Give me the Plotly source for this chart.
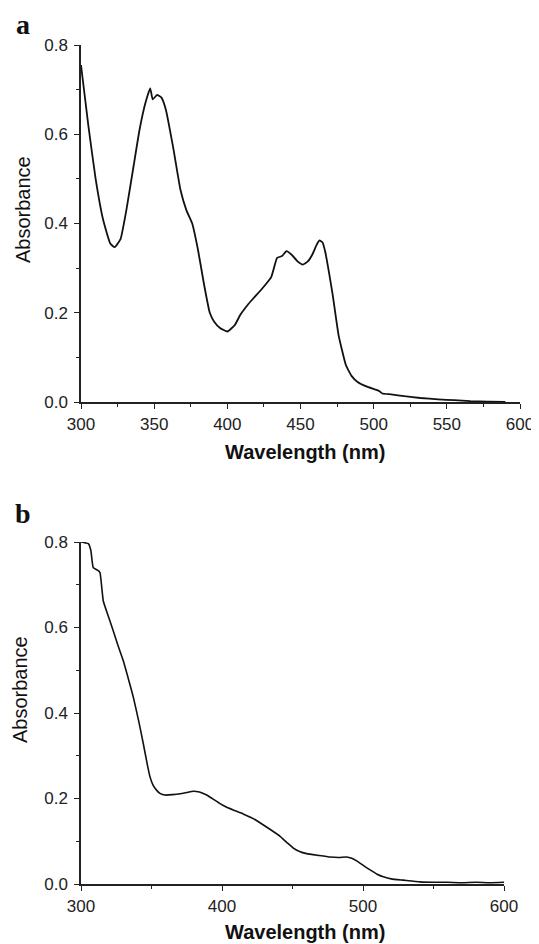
import plotly.graph_objects as go

# panel a: absorbance spectrum
wavelength_a = [300, 305, 310, 315, 320, 323, 327, 331, 336, 340, 344, 347.3, 349, 352, 355,
                358, 363, 368, 372, 376, 380, 384, 388, 391, 395, 400, 405, 409, 414, 418,
                424, 430, 434, 437.4, 440.4, 444, 448, 451.6, 455, 458, 461, 463, 465, 467,
                469.5, 472, 476, 481, 485, 489, 495, 502, 504, 506, 512, 521, 532, 544,
                555, 566, 578, 590]
absorbance_a = [0.755, 0.62, 0.5, 0.41, 0.355, 0.347, 0.365, 0.43, 0.53, 0.61, 0.67, 0.703,
                0.678, 0.688, 0.682, 0.655, 0.57, 0.475, 0.43, 0.4, 0.34, 0.265, 0.2, 0.18,
                0.166, 0.158, 0.172, 0.196, 0.218, 0.233, 0.255, 0.28, 0.323, 0.327, 0.338,
                0.33, 0.315, 0.308, 0.315, 0.33, 0.352, 0.362, 0.358, 0.335, 0.29, 0.24,
                0.15, 0.083, 0.058, 0.045, 0.035, 0.027, 0.024, 0.019, 0.017, 0.013, 0.009,
                0.006, 0.004, 0.002, 0.001, 0.0]

# panel b: absorbance spectrum
wavelength_b = [300, 303, 305.2, 307, 308.7, 312.3, 313.5, 315.8, 319, 322.9, 326, 330,
                334, 337.1, 341, 344.2, 347, 349, 351, 353.7, 356, 359.6, 365, 370.2, 375,
                379.7, 384, 389.1, 394, 398.6, 403, 408, 415, 422.2, 428, 434, 441, 446,
                450.6, 455, 460, 468, 476.6, 483, 488.4, 492, 495.5, 500, 505, 510, 514.4,
                520, 528.6, 540.4, 550, 560, 570, 580, 590, 600]
absorbance_b = [0.8, 0.798, 0.796, 0.78, 0.74, 0.733, 0.728, 0.662, 0.63, 0.592, 0.56, 0.522,
                0.475, 0.437, 0.38, 0.328, 0.28, 0.25, 0.232, 0.219, 0.212, 0.208, 0.209,
                0.211, 0.214, 0.217, 0.215, 0.208, 0.198, 0.188, 0.18, 0.173, 0.164, 0.153,
                0.141, 0.128, 0.112, 0.097, 0.084, 0.076, 0.071, 0.067, 0.063, 0.062,
                0.063, 0.06, 0.054, 0.044, 0.033, 0.023, 0.017, 0.012, 0.009, 0.005, 0.004,
                0.004, 0.003, 0.004, 0.003, 0.004]

x_ticks_a = [300, 350, 400, 450, 500, 550, 600]
x_ticks_b = [300, 400, 500, 600]
y_ticks = [0.0, 0.2, 0.4, 0.6, 0.8]
y_tick_text = ["0.0", "0.2", "0.4", "0.6", "0.8"]

# the page puts the plot 8px in from the top-left corner
OFFSET = 8
W, H = 539 - OFFSET, 944 - OFFSET
line_color = "#111111"
tick_font = dict(family="Liberation Sans, Arial, sans-serif", size=17, color="#222222")


def px_x(p):
    return (p - OFFSET) / W


def px_y(p):
    return 1 - (p - OFFSET) / H


fig = go.Figure()

fig.add_trace(
    go.Scatter(
        x=wavelength_a, y=absorbance_a, mode="lines",
        line=dict(color=line_color, width=1.8, shape="spline", smoothing=0.4),
        xaxis="x", yaxis="y", showlegend=False,
    )
)
fig.add_trace(
    go.Scatter(
        x=wavelength_b, y=absorbance_b, mode="lines",
        line=dict(color=line_color, width=1.6, shape="spline", smoothing=0.4),
        xaxis="x2", yaxis="y2", showlegend=False,
    )
)

axis_common = dict(
    showline=True, linecolor="#222222", linewidth=1.5, showgrid=False, zeroline=False,
    ticks="outside", ticklen=5, tickwidth=1.2, tickcolor="#222222", tickfont=tick_font,
    automargin=False,
)

fig.update_layout(
    template="none",
    width=W, height=H,
    margin=dict(l=0, r=0, t=0, b=0, pad=0),
    paper_bgcolor="white", plot_bgcolor="white",
    xaxis=dict(
        **axis_common, domain=[px_x(81), px_x(520)], anchor="y", range=[300, 600],
        tickvals=x_ticks_a, ticklabelstandoff=1,
        minor=dict(ticks="outside", ticklen=3, dtick=25, tick0=300, tickcolor="#222222"),
    ),
    yaxis=dict(
        **axis_common, domain=[px_y(402), px_y(45)], anchor="x", range=[0, 0.8],
        tickvals=y_ticks, ticktext=y_tick_text, ticklabelstandoff=3,
        minor=dict(ticks="outside", ticklen=3, dtick=0.1, tick0=0, tickcolor="#222222"),
    ),
    xaxis2=dict(
        **axis_common, domain=[px_x(81), px_x(504)], anchor="y2", range=[300, 600],
        tickvals=x_ticks_b, ticklabelstandoff=1,
        minor=dict(ticks="outside", ticklen=3, dtick=50, tick0=300, tickcolor="#222222"),
    ),
    yaxis2=dict(
        **axis_common, domain=[px_y(884), px_y(542)], anchor="x2", range=[0, 0.8],
        tickvals=y_ticks, ticktext=y_tick_text, ticklabelstandoff=3,
        minor=dict(ticks="outside", ticklen=3, dtick=0.1, tick0=0, tickcolor="#222222"),
    ),
)

label_font = dict(family="Liberation Sans, Arial, sans-serif", size=20, color="#111111")
panel_font = dict(family="Liberation Serif, Times New Roman, serif", size=28, color="#111111")

annotations = [
    dict(text="<b>a</b>", x=px_x(23), y=px_y(8), yanchor="top", font=panel_font),
    dict(text="<b>b</b>", x=px_x(23), y=px_y(514), yanchor="middle", font=panel_font),
    dict(text="Absorbance", x=px_x(23), y=px_y(210), yanchor="middle", textangle=-90,
         font=label_font),
    dict(text="Absorbance", x=px_x(20), y=px_y(690), yanchor="middle", textangle=-90,
         font=label_font),
    dict(text="<b>Wavelength (nm)</b>", x=px_x(305), y=px_y(452), yanchor="middle",
         font=label_font),
    dict(text="<b>Wavelength (nm)</b>", x=px_x(305), y=px_y(932), yanchor="middle",
         font=label_font),
]
for a in annotations:
    fig.add_annotation(xref="paper", yref="paper", showarrow=False, xanchor="center",
                       borderpad=0, **a)

fig.write_html("out.html")
